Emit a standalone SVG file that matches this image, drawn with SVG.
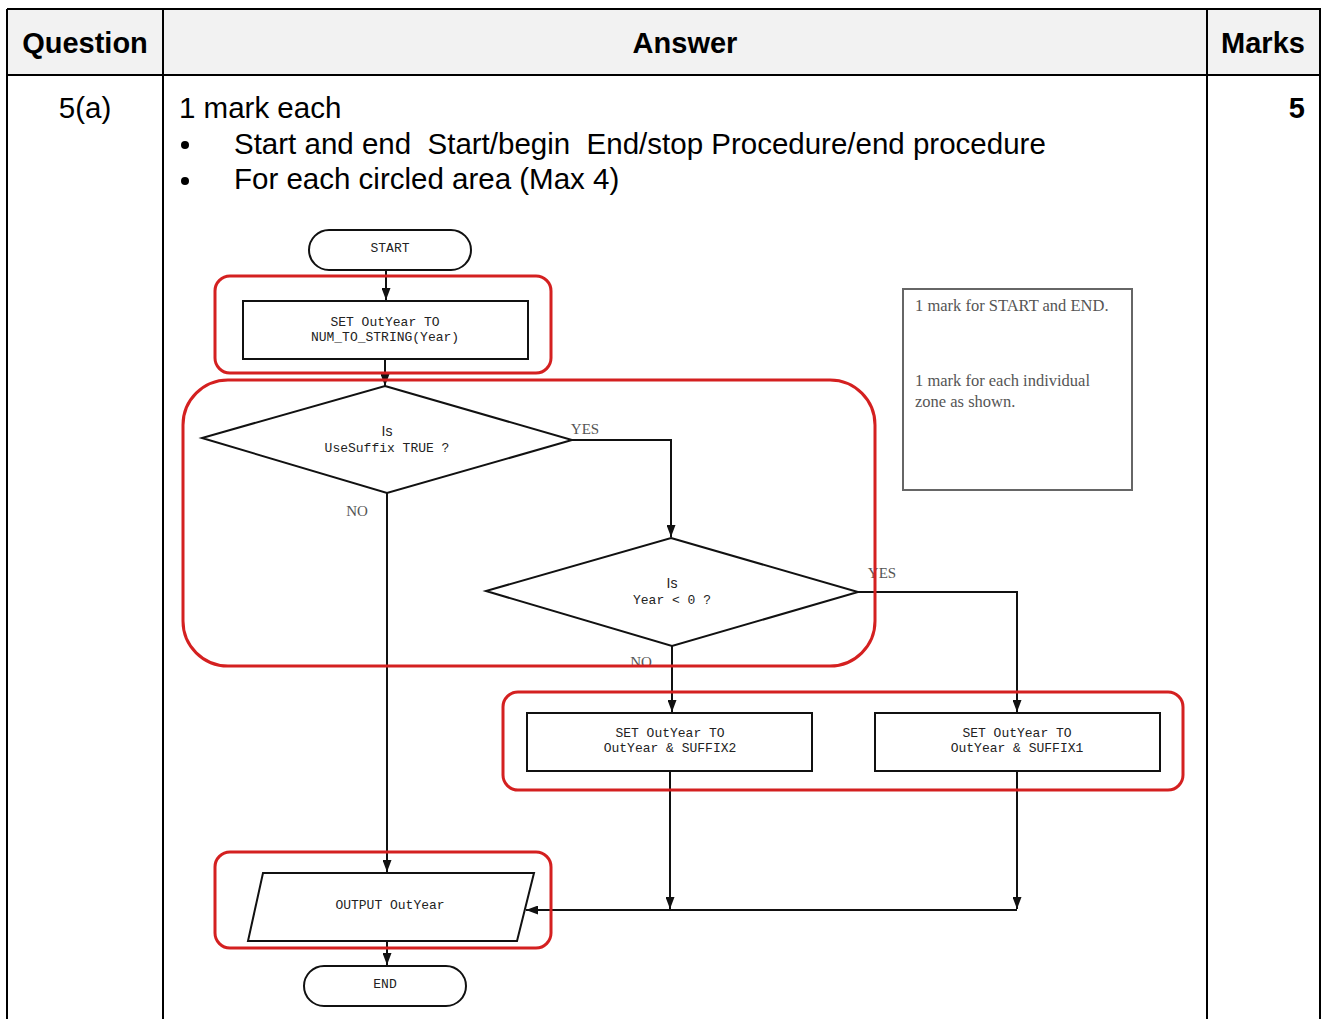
<svg xmlns="http://www.w3.org/2000/svg" width="1322" height="1019" viewBox="0 0 1322 1019">
<defs>
<marker id="ah" viewBox="0 0 12 9" refX="12" refY="4.5" markerWidth="12" markerHeight="9" markerUnits="userSpaceOnUse" orient="auto">
<path d="M0,0 L12,4.5 L0,9 z" fill="#111"/>
</marker>
<style>
.hdr{font-family:"Liberation Sans",Arial,sans-serif;font-weight:bold;font-size:29px;fill:#000}
.body{font-family:"Liberation Sans",Arial,sans-serif;font-size:29.5px;fill:#000;white-space:pre}
.mono{font-family:"Liberation Mono","Courier New",monospace;font-size:13px;fill:#222}
.sans{font-family:"Liberation Sans",Arial,sans-serif;font-size:14px;fill:#222}
.lbl{font-family:"Liberation Serif","Times New Roman",serif;font-size:15px;fill:#555}
.note{font-family:"Liberation Serif","Times New Roman",serif;font-size:16.5px;fill:#555}
.shape{fill:#fff;stroke:#111;stroke-width:2}
.zone{fill:none;stroke:#d42020;stroke-width:3}
.conn{fill:none;stroke:#111;stroke-width:2}
.grid{stroke:#000;stroke-width:2;fill:none}
</style>
</defs>
<rect x="0" y="0" width="1322" height="1019" fill="#fff"/>
<g id="table">
<rect x="7" y="9" width="1313" height="66" fill="#f2f2f2"/>
<line class="grid" x1="7" y1="9" x2="1321" y2="9"/>
<line class="grid" x1="7" y1="75" x2="1321" y2="75"/>
<line class="grid" x1="7" y1="9" x2="7" y2="1019"/>
<line class="grid" x1="163" y1="9" x2="163" y2="1019"/>
<line class="grid" x1="1207" y1="9" x2="1207" y2="1019"/>
<line class="grid" x1="1320" y1="9" x2="1320" y2="1019"/>
<text class="hdr" x="85" y="53" text-anchor="middle">Question</text>
<text class="hdr" x="685" y="53" text-anchor="middle">Answer</text>
<text class="hdr" x="1263" y="53" text-anchor="middle">Marks</text>
<text class="body" x="85" y="118" text-anchor="middle">5(a)</text>
<text class="hdr" x="1305" y="118" text-anchor="end">5</text>
<text class="body" x="179" y="118">1 mark each</text>
<circle cx="185" cy="145" r="4" fill="#000"/>
<text class="body" x="234" y="154" xml:space="preserve">Start and end  Start/begin  End/stop Procedure/end procedure</text>
<circle cx="185" cy="181" r="4" fill="#000"/>
<text class="body" x="234" y="189">For each circled area (Max 4)</text>
</g>
<g id="connectors">
<line class="conn" x1="386" y1="270" x2="386" y2="300" marker-end="url(#ah)"/>
<line class="conn" x1="385" y1="359" x2="385" y2="386" marker-end="url(#ah)"/>
<polyline class="conn" points="572,440 671,440 671,537" marker-end="url(#ah)"/>
<line class="conn" x1="387" y1="493" x2="387" y2="872" marker-end="url(#ah)"/>
<polyline class="conn" points="858,592 1017,592 1017,712" marker-end="url(#ah)"/>
<line class="conn" x1="672" y1="646" x2="672" y2="712" marker-end="url(#ah)"/>
<line class="conn" x1="670" y1="771" x2="670" y2="909" marker-end="url(#ah)"/>
<line class="conn" x1="1017" y1="771" x2="1017" y2="909" marker-end="url(#ah)"/>
<line class="conn" x1="1017" y1="910" x2="526" y2="910" marker-end="url(#ah)"/>
<line class="conn" x1="387" y1="941" x2="387" y2="965" marker-end="url(#ah)"/>
<text class="lbl" x="585" y="434" text-anchor="middle">YES</text>
<text class="lbl" x="357" y="516" text-anchor="middle">NO</text>
<text class="lbl" x="882" y="578" text-anchor="middle">YES</text>
<text class="lbl" x="641" y="667" text-anchor="middle">NO</text>
</g>
<g id="start">
<rect class="shape" x="309" y="230" width="162" height="40" rx="20"/>
<text class="mono" x="390" y="252" text-anchor="middle">START</text>
</g>
<g id="set1">
<rect class="shape" x="243" y="301" width="285" height="58"/>
<text class="mono" x="385" y="326" text-anchor="middle">SET OutYear TO</text>
<text class="mono" x="385" y="341" text-anchor="middle">NUM_TO_STRING(Year)</text>
</g>
<g id="dec1">
<polygon class="shape" points="385,386 572,440 387,493 202,438"/>
<text class="sans" x="387" y="436" text-anchor="middle">Is</text>
<text class="mono" x="387" y="452" text-anchor="middle">UseSuffix TRUE ?</text>
</g>
<g id="dec2">
<polygon class="shape" points="671,538 858,592 672,646 486,591"/>
<text class="sans" x="672" y="588" text-anchor="middle">Is</text>
<text class="mono" x="672" y="604" text-anchor="middle">Year &lt; 0 ?</text>
</g>
<g id="set2">
<rect class="shape" x="527" y="713" width="285" height="58"/>
<text class="mono" x="670" y="737" text-anchor="middle">SET OutYear TO</text>
<text class="mono" x="670" y="752" text-anchor="middle">OutYear &amp; SUFFIX2</text>
</g>
<g id="set3">
<rect class="shape" x="875" y="713" width="285" height="58"/>
<text class="mono" x="1017" y="737" text-anchor="middle">SET OutYear TO</text>
<text class="mono" x="1017" y="752" text-anchor="middle">OutYear &amp; SUFFIX1</text>
</g>
<g id="output">
<polygon class="shape" points="263,873 534,873 517,941 248,941"/>
<text class="mono" x="390" y="909" text-anchor="middle">OUTPUT OutYear</text>
</g>
<g id="end">
<rect class="shape" x="304" y="966" width="162" height="40" rx="20"/>
<text class="mono" x="385" y="988" text-anchor="middle">END</text>
</g>
<g id="note">
<rect x="903" y="289" width="229" height="201" fill="#fff" stroke="#666" stroke-width="2"/>
<text class="note" x="915" y="311">1 mark for START and END.</text>
<text class="note" x="915" y="386">1 mark for each individual</text>
<text class="note" x="915" y="407">zone as shown.</text>
</g>
<g id="zones">
<rect class="zone" x="215" y="276" width="336" height="97" rx="15"/>
<rect class="zone" x="183" y="380" width="692" height="286" rx="45"/>
<rect class="zone" x="503" y="692" width="680" height="98" rx="15"/>
<rect class="zone" x="215" y="852" width="336" height="96" rx="15"/>
</g>
</svg>
